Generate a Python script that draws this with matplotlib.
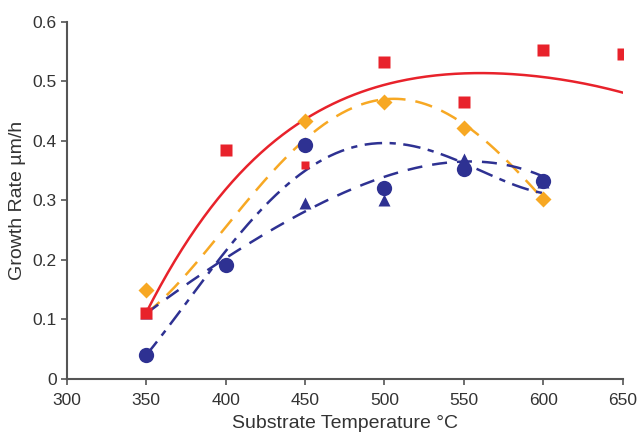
import matplotlib
matplotlib.use('Agg')
import matplotlib.pyplot as plt
import numpy as np

plt.rcParams['font.family'] = ['Liberation Sans', 'DejaVu Sans']

RED = '#e8222b'
ORANGE = '#f7a823'
BLUE = '#2e3192'

# measured points
sq_x = [350, 400, 500, 550, 600, 650]
sq_y = [0.11, 0.385, 0.533, 0.465, 0.553, 0.545]
sq_small_x = [450]
sq_small_y = [0.36]

dia_x = [350, 450, 500, 550, 600]
dia_y = [0.15, 0.433, 0.465, 0.422, 0.302]

circ_x = [350, 400, 450, 500, 550, 600]
circ_y = [0.04, 0.192, 0.393, 0.321, 0.353, 0.333]

tri_x = [350, 450, 500, 550, 600]
tri_y = [0.11, 0.295, 0.30, 0.370, 0.33]

# trend lines
red_fx = [350, 400, 450, 500, 550, 600, 650]
red_fy = [0.11, 0.323, 0.43, 0.495, 0.518, 0.503, 0.482]
org_fx = [350, 400, 450, 500, 550, 600]
org_fy = [0.11, 0.256, 0.40, 0.472, 0.427, 0.302]
dd_fx = [350, 400, 450, 500, 550, 600]
dd_fy = [0.04, 0.214, 0.351, 0.395, 0.363, 0.312]
da_fx = [350, 400, 450, 500, 550, 600]
da_fy = [0.11, 0.203, 0.281, 0.34, 0.365, 0.34]


def smooth(xs, ys, deg=4):
    c = np.polyfit(xs, ys, deg)
    xx = np.linspace(xs[0], xs[-1], 200)
    return xx, np.polyval(c, xx)


fig = plt.figure(figsize=(6.37, 4.32), dpi=100)
ax = fig.add_axes([0.1047, 0.1227, 0.873, 0.827])

xx, yy = smooth(red_fx, red_fy)
ax.plot(xx, yy, color=RED, lw=1.8, zorder=2)
xx, yy = smooth(org_fx, org_fy)
ax.plot(xx, yy, color=ORANGE, lw=1.8, dashes=(7, 4), zorder=2)
xx, yy = smooth(dd_fx, dd_fy)
ax.plot(xx, yy, color=BLUE, lw=1.8, dashes=(7, 3, 2.5, 3), zorder=2)
xx, yy = smooth(da_fx, da_fy)
ax.plot(xx, yy, color=BLUE, lw=1.8, dashes=(6, 4), zorder=2)

ax.plot(tri_x, tri_y, '^', color=BLUE, ms=9, mec='none', zorder=3)
ax.plot(circ_x, circ_y, 'o', color=BLUE, ms=11, mec='none', zorder=3)
ax.plot(dia_x, dia_y, 'D', color=ORANGE, ms=8.5, mec='none', zorder=3)
ax.plot(sq_x, sq_y, 's', color=RED, ms=8, mec='none', zorder=4)
ax.plot(sq_small_x, sq_small_y, 's', color=RED, ms=6, mec='none', zorder=4)

ax.set_xlim(300, 650)
ax.set_ylim(0, 0.6)
ax.set_xticks(np.arange(300, 651, 50))
ax.set_yticks([0, 0.1, 0.2, 0.3, 0.4, 0.5, 0.6])
ax.set_yticklabels(['0', '0.1', '0.2', '0.3', '0.4', '0.5', '0.6'])

for s in ['top', 'right']:
    ax.spines[s].set_visible(False)
for s in ['left', 'bottom']:
    ax.spines[s].set_color('#555555')
    ax.spines[s].set_linewidth(1.5)
ax.tick_params(colors='#555555', labelcolor='#333333', labelsize=12.5,
               length=4, width=1.2)
ax.tick_params(axis='x', pad=6)
ax.tick_params(axis='y', pad=3)

ax.set_xlabel('Substrate Temperature °C', fontsize=14, color='#333333', labelpad=5)
ax.set_ylabel('Growth Rate µm/h', fontsize=14, color='#333333', labelpad=5)

fig.savefig('out.png', dpi=100)
